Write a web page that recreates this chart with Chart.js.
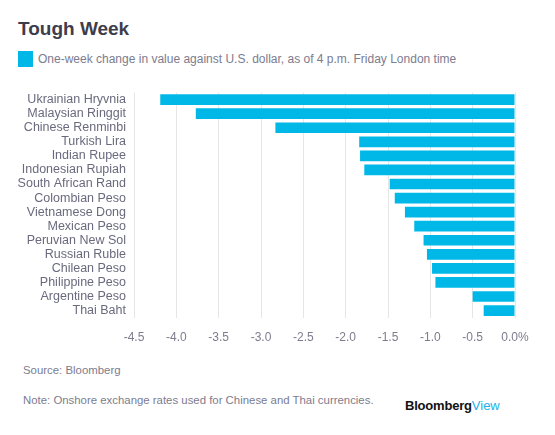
<!DOCTYPE html>
<html>
<head>
<meta charset="utf-8">
<script src="https://cdn.jsdelivr.net/npm/chart.js@4"></script>
<style>
  html, body { margin: 0; padding: 0; background: #fff; }
  body { width: 555px; height: 435px; position: relative; overflow: hidden; font-family: "Liberation Sans", Arial, sans-serif; }
  .t { position: absolute; line-height: 1; white-space: nowrap; }
  #title { left: 18px; top: 18.5px; font-size: 19px; font-weight: bold; color: #3d3d4c; }
  #legsq { position: absolute; left: 18px; top: 51px; width: 15px; height: 16px; background: #00b8e8; }
  #legtx { left: 38px; top: 52.6px; font-size: 12px; color: #7c7c8e; }
  #source { left: 23px; top: 365.4px; font-size: 11.4px; color: #7c7c8e; }
  #note { left: 23px; top: 395.4px; font-size: 11.4px; color: #7c7c8e; }
  #logo { left: 405px; top: 399px; font-size: 13px; }
  #logo b { color: #111; letter-spacing: -0.2px; }
  #logo span { color: #1bb0e6; }
  #wrap { position: absolute; left: 0; top: 85px; width: 555px; height: 279px; }
</style>
</head>
<body>
<div class="t" id="title">Tough Week</div>
<div id="legsq"></div>
<div class="t" id="legtx">One-week change in value against U.S. dollar, as of 4 p.m. Friday London time</div>
<div id="wrap"><canvas id="c"></canvas></div>
<div class="t" id="source">Source: Bloomberg</div>
<div class="t" id="note">Note: Onshore exchange rates used for Chinese and Thai currencies.</div>
<div class="t" id="logo"><b>Bloomberg</b><span>View</span></div>
<script>
const categories = ["Ukrainian Hryvnia","Malaysian Ringgit","Chinese Renminbi","Turkish Lira","Indian Rupee","Indonesian Rupiah","South African Rand","Colombian Peso","Vietnamese Dong","Mexican Peso","Peruvian New Sol","Russian Ruble","Chilean Peso","Philippine Peso","Argentine Peso","Thai Baht"];
const weeklyChange = [-4.19,-3.77,-2.83,-1.84,-1.83,-1.78,-1.48,-1.42,-1.30,-1.19,-1.08,-1.04,-0.98,-0.94,-0.50,-0.37];
const tickLabels = ["-4.5","-4.0","-3.5","-3.0","-2.5","-2.0","-1.5","-1.0","-0.5","0.0%"];

new Chart(document.getElementById('c'), {
  type: 'bar',
  data: {
    labels: categories,
    datasets: [{
      label: 'One-week change in value against U.S. dollar, as of 4 p.m. Friday London time',
      data: weeklyChange,
      backgroundColor: '#00b8e8',
      borderWidth: 0,
      barPercentage: 0.76,
      categoryPercentage: 1
    }]
  },
  options: {
    indexAxis: 'y',
    responsive: true,
    maintainAspectRatio: false,
    animation: false,
    layout: { padding: { top: 7.6, bottom: 6, left: 0, right: 40 } },
    plugins: { legend: { display: false }, tooltip: { enabled: false } },
    scales: {
      x: {
        min: -4.5, max: 0,
        grid: { color: '#e6e6e6', lineWidth: 1, drawTicks: false },
        border: { display: false },
        afterFit: (s) => { s.paddingLeft = 0; s.paddingRight = 0; },
        ticks: {
          stepSize: 0.5,
          padding: 13,
          color: '#7c7c8e',
          font: { family: '"Liberation Sans", Arial, sans-serif', size: 12 },
          callback: (v, i) => tickLabels[i]
        }
      },
      y: {
        grid: { display: false, drawTicks: false },
        border: { display: false },
        afterFit: (s) => { s.width = 134; s.paddingTop = 0; s.paddingBottom = 0; },
        ticks: {
          padding: 8,
          color: '#6a6a7e',
          font: { family: '"Liberation Sans", Arial, sans-serif', size: 12.5 },
          autoSkip: false
        }
      }
    }
  }
});
</script>
</body>
</html>
